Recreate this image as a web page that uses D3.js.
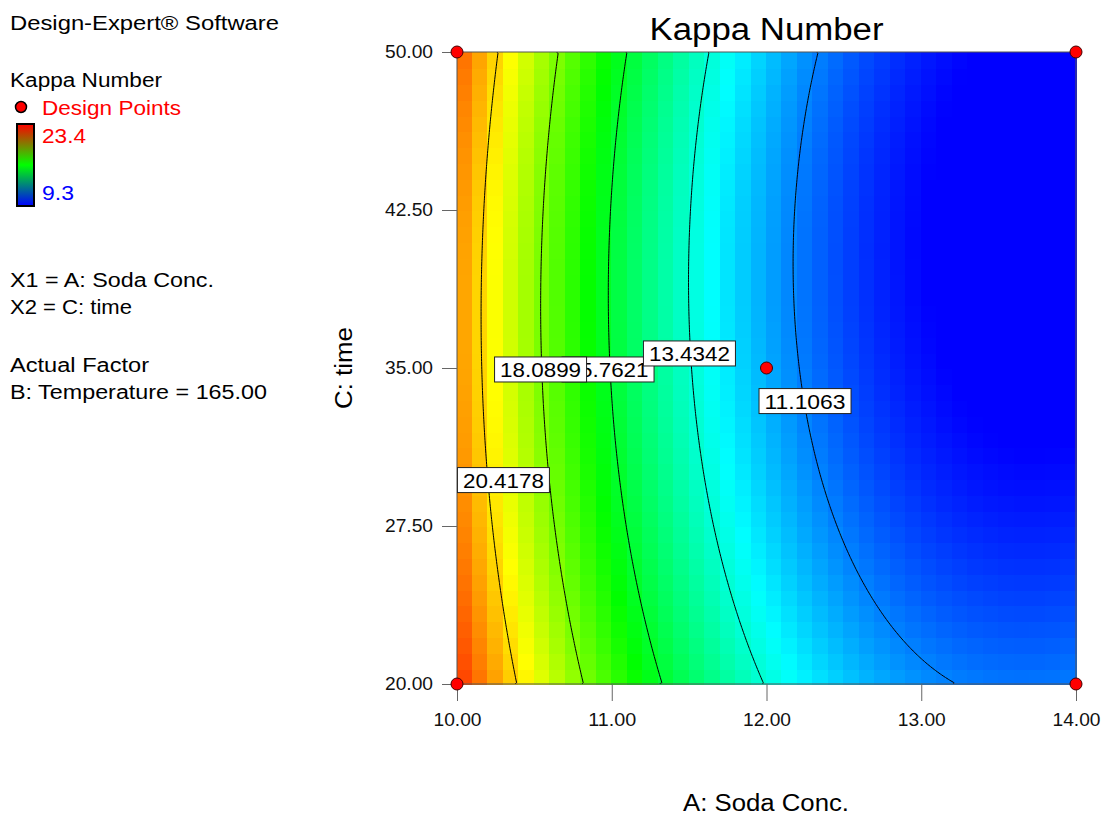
<!DOCTYPE html>
<html><head><meta charset="utf-8">
<script src="https://cdn.jsdelivr.net/npm/d3@7"></script>
<style>
body{margin:0;background:#fff}
svg{display:block}
text{font-family:"Liberation Sans",Arial,sans-serif}
</style>
</head><body>
<svg id="chart" width="1105" height="816"></svg>
<script>
// ---------- data ----------
const xTickValues = [10, 11, 12, 13, 14];
const yTickValues = [20, 27.5, 35, 42.5, 50];
const xDomain = [10, 14];
const yDomain = [20, 50];
// quadratic response-surface model (coded: a=(A-12)/2, c=(C-35)/15)
const modelTerms = ["1", "a", "c", "a^2", "c^2", "a*c"];
const modelCoefficients = [11.724, -6.205, -0.6425, 3.527, 1.0165, -0.33];
const contourLevels = [11.1063, 13.4342, 15.7621, 18.0899, 20.4178];
const colorLow = 9.3;
const colorHigh = 23.4;
const designA = [10, 14, 10, 14, 12];
const designC = [50, 50, 20, 20, 35];
const labelTexts = ["15.7621", "18.0899", "13.4342", "11.1063", "20.4178"];
const labelA = [10.976, 10.54, 11.502, 12.249, 10.30];
const labelC = [34.93, 34.93, 35.69, 33.43, 29.68];

// ---------- layout ----------
const svg = d3.select("#chart");
const P = {l: 457, r: 1076, t: 52, b: 684};
const x = d3.scaleLinear().domain(xDomain).range([P.l, P.r]);
const y = d3.scaleLinear().domain(yDomain).range([P.b, P.t]);
function fit(sel, w) { sel.attr("textLength", w).attr("lengthAdjust", "spacingAndGlyphs"); }

function model(A, C) {
  const a = (A - 12) / 2, c = (C - 35) / 15;
  const t = [1, a, c, a * a, c * c, a * c];
  return d3.sum(t, (v, i) => v * modelCoefficients[i]);
}
const step = (colorHigh - colorLow) / 4;
const color = d3.scaleLinear()
  .domain([colorLow, colorLow + step, colorLow + 2 * step, colorLow + 3 * step, colorHigh])
  .range(["#0000ff", "#00ffff", "#00ff00", "#ffff00", "#ff0000"])
  .clamp(true);

// ---------- filled cells ----------
const NC = 40;
const cells = [];
for (let j = 0; j < NC; j++) for (let i = 0; i < NC; i++) {
  const A0 = xDomain[0] + (xDomain[1] - xDomain[0]) * i / NC;
  const A1 = xDomain[0] + (xDomain[1] - xDomain[0]) * (i + 1) / NC;
  const C0 = yDomain[0] + (yDomain[1] - yDomain[0]) * j / NC;
  const C1 = yDomain[0] + (yDomain[1] - yDomain[0]) * (j + 1) / NC;
  cells.push({A0, A1, C0, C1, v: model((A0 + A1) / 2, (C0 + C1) / 2)});
}
svg.append("g").attr("shape-rendering", "crispEdges").selectAll("rect").data(cells).join("rect")
  .attr("x", d => Math.floor(x(d.A0)))
  .attr("y", d => Math.floor(y(d.C1)))
  .attr("width", d => Math.ceil(x(d.A1)) - Math.floor(x(d.A0)) + 1)
  .attr("height", d => Math.ceil(y(d.C0)) - Math.floor(y(d.C1)) + 1)
  .attr("fill", d => color(d.v));

// ---------- contour lines ----------
const N = 240, M = 240;
const grid = new Array(N * M);
for (let j = 0; j < M; j++) for (let i = 0; i < N; i++) {
  const A = xDomain[0] + (xDomain[1] - xDomain[0]) * (i + 0.5) / N;
  const C = yDomain[1] - (yDomain[1] - yDomain[0]) * (j + 0.5) / M;
  grid[j * N + i] = model(A, C);
}
const contours = d3.contours().size([N, M]).thresholds(contourLevels)(grid);
const toA = gx => xDomain[0] + (xDomain[1] - xDomain[0]) * gx / N;
const toC = gy => yDomain[1] - (yDomain[1] - yDomain[0]) * gy / M;
function onEdge(p, q) {
  return (p[0] === 0 && q[0] === 0) || (p[0] === N && q[0] === N) ||
         (p[1] === 0 && q[1] === 0) || (p[1] === M && q[1] === M);
}
let pathStr = "";
contours.forEach(cn => {
  cn.coordinates.forEach(poly => poly.forEach(ring => {
    let pen = false;
    for (let k = 0; k < ring.length - 1; k++) {
      const p = ring[k], q = ring[k + 1];
      if (onEdge(p, q)) { pen = false; continue; }
      if (!pen) pathStr += "M" + x(toA(p[0])).toFixed(2) + "," + y(toC(p[1])).toFixed(2);
      pathStr += "L" + x(toA(q[0])).toFixed(2) + "," + y(toC(q[1])).toFixed(2);
      pen = true;
    }
  }));
});
svg.append("defs").append("clipPath").attr("id", "plotclip").append("rect")
  .attr("x", P.l).attr("y", P.t).attr("width", P.r - P.l).attr("height", P.b - P.t);
svg.append("path").attr("d", pathStr).attr("fill", "none").attr("stroke", "#000")
  .attr("stroke-width", 1).attr("clip-path", "url(#plotclip)");

// ---------- frame ----------
svg.append("rect").attr("x", P.l).attr("y", P.t).attr("width", P.r - P.l).attr("height", P.b - P.t)
  .attr("fill", "none").attr("stroke", "#555").attr("stroke-width", 1);

// ---------- axes ----------
const xAxis = svg.append("g").attr("transform", `translate(0,${P.b})`)
  .call(d3.axisBottom(x).tickValues(xTickValues).tickFormat(d3.format(".2f")).tickSize(17).tickPadding(12));
const yAxis = svg.append("g").attr("transform", `translate(${P.l},0)`)
  .call(d3.axisLeft(y).tickValues(yTickValues).tickFormat(d3.format(".2f")).tickSize(15).tickPadding(9));
[xAxis, yAxis].forEach(g => {
  g.select(".domain").remove();
  g.selectAll(".tick line").attr("stroke", "#666");
  g.selectAll(".tick text").attr("fill", "#111").attr("font-size", 18)
    .attr("font-family", '"Liberation Sans",Arial,sans-serif').call(fit, 48);
});

// ---------- contour labels ----------
const lab = svg.append("g").attr("clip-path", "url(#plotclip)");
labelTexts.forEach((t, k) => {
  const cx = x(labelA[k]), cy = y(labelC[k]);
  lab.append("rect").attr("x", cx - 46).attr("y", cy - 12.5).attr("width", 92).attr("height", 25)
    .attr("fill", "#fff").attr("stroke", "#222").attr("stroke-width", 1);
  lab.append("text").attr("x", cx).attr("y", cy + 8).attr("text-anchor", "middle")
    .attr("font-size", 20).attr("fill", "#000").call(fit, 81).text(t);
});

// ---------- design points ----------
svg.append("g").selectAll("circle").data(designA).join("circle")
  .attr("cx", (d) => x(d)).attr("cy", (d, i) => y(designC[i])).attr("r", 6)
  .attr("fill", "#ff0000").attr("stroke", "#400").attr("stroke-width", 1);

// ---------- titles ----------
svg.append("text").attr("x", (P.l + P.r) / 2).attr("y", 40).attr("text-anchor", "middle")
  .attr("font-size", 31).attr("fill", "#000").call(fit, 234).text("Kappa Number");
svg.append("text").attr("x", 766).attr("y", 811).attr("text-anchor", "middle")
  .attr("font-size", 23).attr("fill", "#000").call(fit, 166).text("A: Soda Conc.");
svg.append("text").attr("transform", `translate(352,${(P.t + P.b) / 2}) rotate(-90)`)
  .attr("text-anchor", "middle").attr("font-size", 23).attr("fill", "#000").call(fit, 82).text("C: time");

// ---------- left legend ----------
const leg = [
  {t: "Design-Expert® Software", x: 10, y: 30, c: "#000", w: 269},
  {t: "Kappa Number", x: 10, y: 87, c: "#000", w: 152},
  {t: "Design Points", x: 42, y: 115, c: "#ff0000", w: 139},
  {t: "23.4", x: 42, y: 143, c: "#ff0000", w: 44},
  {t: "9.3", x: 42, y: 200, c: "#0000ff", w: 32},
  {t: "X1 = A: Soda Conc.", x: 10, y: 287, c: "#000", w: 204},
  {t: "X2 = C: time", x: 10, y: 314, c: "#000", w: 122},
  {t: "Actual Factor", x: 10, y: 372, c: "#000", w: 139},
  {t: "B: Temperature = 165.00", x: 10, y: 399, c: "#000", w: 257}
];
svg.append("g").selectAll("text").data(leg).join("text")
  .attr("x", d => d.x).attr("y", d => d.y).attr("fill", d => d.c)
  .attr("font-size", 20).attr("textLength", d => d.w).attr("lengthAdjust", "spacingAndGlyphs")
  .text(d => d.t);
svg.append("circle").attr("cx", 21).attr("cy", 107).attr("r", 5.5)
  .attr("fill", "#ff0000").attr("stroke", "#000").attr("stroke-width", 1.5);
const grad = svg.select("defs").append("linearGradient").attr("id", "cbar")
  .attr("x1", 0).attr("y1", 0).attr("x2", 0).attr("y2", 1);
grad.append("stop").attr("offset", 0).attr("stop-color", "#ff0000");
grad.append("stop").attr("offset", 0.5).attr("stop-color", "#00ff00");
grad.append("stop").attr("offset", 1).attr("stop-color", "#0000ff");
svg.append("rect").attr("x", 17).attr("y", 124).attr("width", 17).attr("height", 82)
  .attr("fill", "url(#cbar)").attr("stroke", "#000").attr("stroke-width", 2);
</script>
</body></html>
